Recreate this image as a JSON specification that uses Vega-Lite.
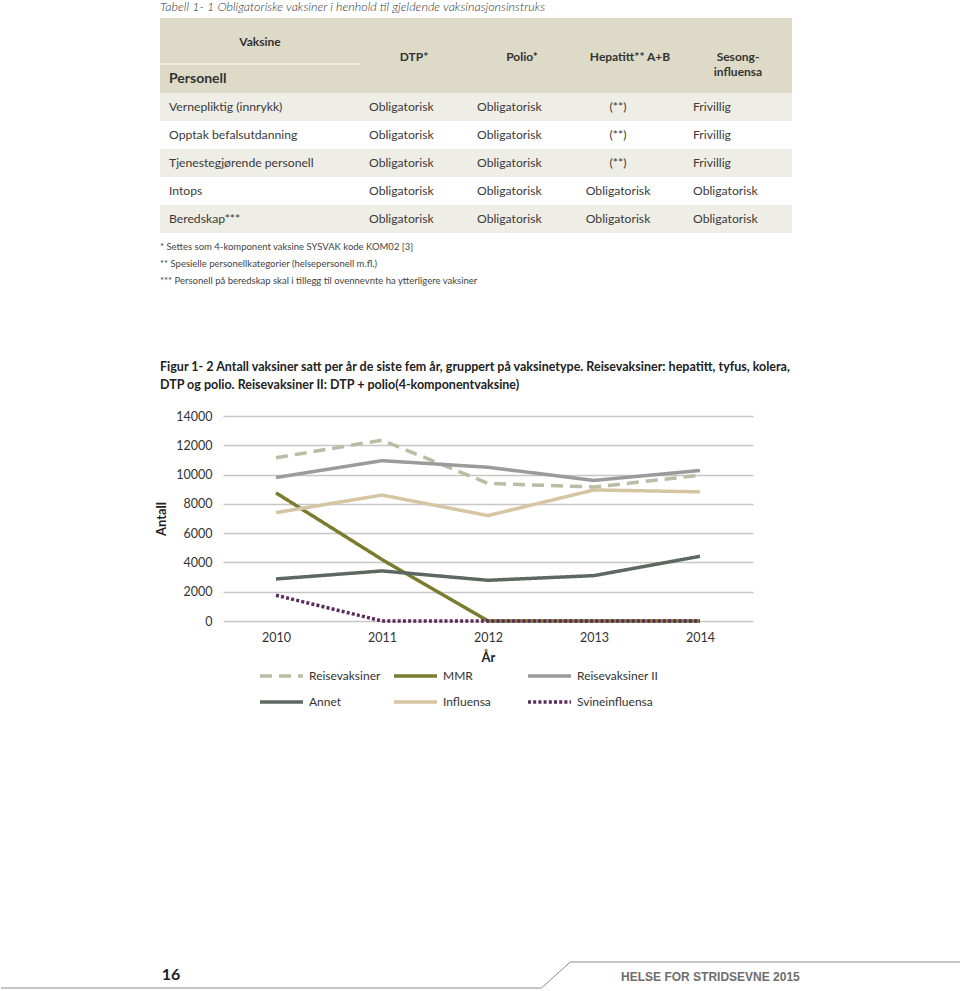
{
  "$schema": "https://vega.github.io/schema/vega-lite/v6.json",
  "padding": 0,
  "background": "#ffffff",
  "bounds": "flush",
  "spacing": 0,
  "config": {
    "view": {"stroke": null},
    "font": "Lato",
    "text": {"font": "Lato"},
    "axis": {"labelFont": "Lato", "titleFont": "Lato"},
    "legend": {"labelFont": "Lato"}
  },
  "datasets": {
    "cells": [
      {"n": 1, "c": 0, "v": "Vernepliktig (innrykk)"},
      {"n": 1, "c": 1, "v": "Obligatorisk"},
      {"n": 1, "c": 2, "v": "Obligatorisk"},
      {"n": 1, "c": 3, "v": "(**)"},
      {"n": 1, "c": 4, "v": "Frivillig"},
      {"n": 2, "c": 0, "v": "Opptak befalsutdanning"},
      {"n": 2, "c": 1, "v": "Obligatorisk"},
      {"n": 2, "c": 2, "v": "Obligatorisk"},
      {"n": 2, "c": 3, "v": "(**)"},
      {"n": 2, "c": 4, "v": "Frivillig"},
      {"n": 3, "c": 0, "v": "Tjenestegjørende personell"},
      {"n": 3, "c": 1, "v": "Obligatorisk"},
      {"n": 3, "c": 2, "v": "Obligatorisk"},
      {"n": 3, "c": 3, "v": "(**)"},
      {"n": 3, "c": 4, "v": "Frivillig"},
      {"n": 4, "c": 0, "v": "Intops"},
      {"n": 4, "c": 1, "v": "Obligatorisk"},
      {"n": 4, "c": 2, "v": "Obligatorisk"},
      {"n": 4, "c": 3, "v": "Obligatorisk"},
      {"n": 4, "c": 4, "v": "Obligatorisk"},
      {"n": 5, "c": 0, "v": "Beredskap***"},
      {"n": 5, "c": 1, "v": "Obligatorisk"},
      {"n": 5, "c": 2, "v": "Obligatorisk"},
      {"n": 5, "c": 3, "v": "Obligatorisk"},
      {"n": 5, "c": 4, "v": "Obligatorisk"}
    ],
    "vaccines": [
      {"Year": 2010, "Vaksinetype": "Reisevaksiner", "Antall": 11150},
      {"Year": 2011, "Vaksinetype": "Reisevaksiner", "Antall": 12350},
      {"Year": 2012, "Vaksinetype": "Reisevaksiner", "Antall": 9400},
      {"Year": 2013, "Vaksinetype": "Reisevaksiner", "Antall": 9150},
      {"Year": 2014, "Vaksinetype": "Reisevaksiner", "Antall": 9950},
      {"Year": 2010, "Vaksinetype": "MMR", "Antall": 8750},
      {"Year": 2011, "Vaksinetype": "MMR", "Antall": 4200},
      {"Year": 2012, "Vaksinetype": "MMR", "Antall": 0},
      {"Year": 2013, "Vaksinetype": "MMR", "Antall": 0},
      {"Year": 2014, "Vaksinetype": "MMR", "Antall": 0},
      {"Year": 2010, "Vaksinetype": "Reisevaksiner II", "Antall": 9800},
      {"Year": 2011, "Vaksinetype": "Reisevaksiner II", "Antall": 10950},
      {"Year": 2012, "Vaksinetype": "Reisevaksiner II", "Antall": 10500},
      {"Year": 2013, "Vaksinetype": "Reisevaksiner II", "Antall": 9600},
      {"Year": 2014, "Vaksinetype": "Reisevaksiner II", "Antall": 10280},
      {"Year": 2010, "Vaksinetype": "Annet", "Antall": 2870},
      {"Year": 2011, "Vaksinetype": "Annet", "Antall": 3420},
      {"Year": 2012, "Vaksinetype": "Annet", "Antall": 2780},
      {"Year": 2013, "Vaksinetype": "Annet", "Antall": 3100},
      {"Year": 2014, "Vaksinetype": "Annet", "Antall": 4420},
      {"Year": 2010, "Vaksinetype": "Influensa", "Antall": 7400},
      {"Year": 2011, "Vaksinetype": "Influensa", "Antall": 8600},
      {"Year": 2012, "Vaksinetype": "Influensa", "Antall": 7200},
      {"Year": 2013, "Vaksinetype": "Influensa", "Antall": 8950},
      {"Year": 2014, "Vaksinetype": "Influensa", "Antall": 8820},
      {"Year": 2010, "Vaksinetype": "Svineinfluensa", "Antall": 1760},
      {"Year": 2011, "Vaksinetype": "Svineinfluensa", "Antall": 0},
      {"Year": 2012, "Vaksinetype": "Svineinfluensa", "Antall": 0},
      {"Year": 2013, "Vaksinetype": "Svineinfluensa", "Antall": 0},
      {"Year": 2014, "Vaksinetype": "Svineinfluensa", "Antall": 0}
    ]
  },
  "vconcat": [
    {
      "width": 569,
      "height": 416,
      "resolve": {"scale": {"y": "independent"}},
      "layer": [
        {
          "data": {"values": [{"t": "Tabell 1- 1 Obligatoriske vaksiner i henhold til gjeldende vaksinasjonsinstruks"}]},
          "mark": {"type": "text", "align": "left", "baseline": "middle", "fontStyle": "italic", "fontWeight": 300, "fontSize": 12.5, "color": "#333333"},
          "encoding": {
            "x": {"datum": 0, "type": "quantitative", "scale": {"domain": [0, 1, 5], "range": [-63, 137, 569], "nice": false, "zero": false}, "axis": null},
            "y": {"field": "t", "type": "nominal", "scale": {"type": "point", "range": [0, 13]}, "axis": null},
            "text": {"field": "t"}
          }
        },
        {
          "data": {"values": [{"part": "header"}]},
          "mark": {"type": "rect", "color": "#dddac7"},
          "encoding": {
            "x": {"datum": 0, "type": "quantitative", "scale": {"domain": [0, 1, 5], "range": [-63, 137, 569], "nice": false, "zero": false}, "axis": null},
            "x2": {"datum": 5},
            "y": {"field": "part", "type": "nominal", "scale": {"type": "band", "range": [18, 93], "paddingInner": 0, "paddingOuter": 0}, "axis": null}
          }
        },
        {
          "data": {"values": [{"lvl": "l3"}]},
          "mark": {"type": "rule", "color": "#f3f1e8", "strokeWidth": 1.5},
          "encoding": {
            "x": {"datum": 0, "type": "quantitative", "scale": {"domain": [0, 1, 5], "range": [-63, 137, 569], "nice": false, "zero": false}, "axis": null},
            "x2": {"datum": 1},
            "y": {"field": "lvl", "type": "nominal", "scale": {"type": "point", "domain": ["l0", "l1", "l2", "l3", "l4", "l5"], "range": [42, 78.5], "padding": 0}, "axis": null}
          }
        },
        {
          "data": {"values": [
            {"c": 1, "lvl": "l2", "h": "DTP*"},
            {"c": 2, "lvl": "l2", "h": "Polio*"},
            {"c": 3, "lvl": "l2", "h": "Hepatitt** A+B"},
            {"c": 4, "lvl": "l2", "h": ["Sesong-", "influensa"]}
          ]},
          "mark": {"type": "text", "align": "center", "baseline": "middle", "dx": 54, "fontWeight": "bold", "fontSize": 12, "lineHeight": 15, "color": "#333333"},
          "encoding": {
            "x": {"field": "c", "type": "quantitative", "scale": {"domain": [0, 1, 5], "range": [-63, 137, 569], "nice": false, "zero": false}, "axis": null},
            "y": {"field": "lvl", "type": "nominal", "scale": {"type": "point", "domain": ["l0", "l1", "l2", "l3", "l4", "l5"], "range": [42, 78.5], "padding": 0}, "axis": null},
            "text": {"field": "h"}
          }
        },
        {
          "data": {"values": [{"c": 0, "lvl": "l0", "h": "Vaksine"}]},
          "mark": {"type": "text", "align": "center", "baseline": "middle", "dx": 100, "fontWeight": "bold", "fontSize": 12, "color": "#333333"},
          "encoding": {
            "x": {"field": "c", "type": "quantitative", "scale": {"domain": [0, 1, 5], "range": [-63, 137, 569], "nice": false, "zero": false}, "axis": null},
            "y": {"field": "lvl", "type": "nominal", "scale": {"type": "point", "domain": ["l0", "l1", "l2", "l3", "l4", "l5"], "range": [42, 78.5], "padding": 0}, "axis": null},
            "text": {"field": "h"}
          }
        },
        {
          "data": {"values": [{"c": 0, "lvl": "l5", "h": "Personell"}]},
          "mark": {"type": "text", "align": "left", "baseline": "middle", "dx": 9, "fontWeight": "bold", "fontSize": 14, "color": "#333333"},
          "encoding": {
            "x": {"field": "c", "type": "quantitative", "scale": {"domain": [0, 1, 5], "range": [-63, 137, 569], "nice": false, "zero": false}, "axis": null},
            "y": {"field": "lvl", "type": "nominal", "scale": {"type": "point", "domain": ["l0", "l1", "l2", "l3", "l4", "l5"], "range": [42, 78.5], "padding": 0}, "axis": null},
            "text": {"field": "h"}
          }
        },
        {
          "data": {"name": "cells"},
          "transform": [{"filter": "datum.c == 0 && datum.n % 2 == 1"}],
          "mark": {"type": "rect", "color": "#eeede6"},
          "encoding": {
            "x": {"datum": 0, "type": "quantitative", "scale": {"domain": [0, 1, 5], "range": [-63, 137, 569], "nice": false, "zero": false}, "axis": null},
            "x2": {"datum": 5},
            "y": {"field": "n", "type": "ordinal", "scale": {"type": "band", "domain": [1, 2, 3, 4, 5], "range": [93, 233], "paddingInner": 0, "paddingOuter": 0}, "axis": null}
          }
        },
        {
          "data": {"name": "cells"},
          "transform": [{"filter": "datum.c != 3"}],
          "mark": {"type": "text", "align": "left", "baseline": "middle", "dx": 9, "fontSize": 12.2, "color": "#3a3a3a"},
          "encoding": {
            "x": {"field": "c", "type": "quantitative", "scale": {"domain": [0, 1, 5], "range": [-63, 137, 569], "nice": false, "zero": false}, "axis": null},
            "y": {"field": "n", "type": "ordinal", "scale": {"type": "band", "domain": [1, 2, 3, 4, 5], "range": [93, 233], "paddingInner": 0, "paddingOuter": 0}, "axis": null},
            "text": {"field": "v"}
          }
        },
        {
          "data": {"name": "cells"},
          "transform": [{"filter": "datum.c == 3"}],
          "mark": {"type": "text", "align": "center", "baseline": "middle", "dx": 42, "fontSize": 12.2, "color": "#3a3a3a"},
          "encoding": {
            "x": {"field": "c", "type": "quantitative", "scale": {"domain": [0, 1, 5], "range": [-63, 137, 569], "nice": false, "zero": false}, "axis": null},
            "y": {"field": "n", "type": "ordinal", "scale": {"type": "band", "domain": [1, 2, 3, 4, 5], "range": [93, 233], "paddingInner": 0, "paddingOuter": 0}, "axis": null},
            "text": {"field": "v"}
          }
        },
        {
          "data": {"values": [
            {"k": 1, "t": "* Settes som 4-komponent vaksine SYSVAK kode KOM02 [3]"},
            {"k": 2, "t": "** Spesielle personellkategorier (helsepersonell m.fl.)"},
            {"k": 3, "t": "*** Personell på beredskap skal i tillegg til ovennevnte ha ytterligere vaksiner"}
          ]},
          "mark": {"type": "text", "align": "left", "baseline": "middle", "fontSize": 9.5, "color": "#444444"},
          "encoding": {
            "x": {"datum": 0, "type": "quantitative", "scale": {"domain": [0, 1, 5], "range": [-63, 137, 569], "nice": false, "zero": false}, "axis": null},
            "y": {"field": "k", "type": "ordinal", "scale": {"type": "point", "domain": [1, 2, 3], "range": [247, 281], "padding": 0}, "axis": null},
            "text": {"field": "t"}
          }
        },
        {
          "data": {"values": [
            {"k": 1, "t": "Figur 1- 2 Antall vaksiner satt per år de siste fem år, gruppert på vaksinetype. Reisevaksiner: hepatitt, tyfus, kolera,"},
            {"k": 2, "t": "DTP og polio. Reisevaksiner II: DTP + polio(4-komponentvaksine)"}
          ]},
          "mark": {"type": "text", "align": "left", "baseline": "middle", "fontSize": 12.5, "fontWeight": "bold", "color": "#222222"},
          "encoding": {
            "x": {"datum": 0, "type": "quantitative", "scale": {"domain": [0, 1, 5], "range": [-63, 137, 569], "nice": false, "zero": false}, "axis": null},
            "y": {"field": "k", "type": "ordinal", "scale": {"type": "point", "domain": [1, 2], "range": [367, 385], "padding": 0}, "axis": null},
            "text": {"field": "t"}
          }
        }
      ]
    },
    {
      "width": 530,
      "height": 205,
      "data": {"name": "vaccines"},
      "mark": {"type": "line", "strokeWidth": 3.5, "strokeCap": "butt"},
      "encoding": {
        "x": {
          "field": "Year", "type": "ordinal",
          "scale": {"type": "point", "padding": 0.5},
          "axis": {"title": "År", "labelAngle": 0, "domain": false, "ticks": false, "tickSize": 0, "grid": false, "labelPadding": 10, "labelFontSize": 12.5, "labelColor": "#333333", "titleFontSize": 13, "titleFontWeight": "bold", "titleColor": "#222222", "titlePadding": 8}
        },
        "y": {
          "field": "Antall", "type": "quantitative",
          "scale": {"domain": [0, 14000], "nice": false},
          "axis": {"title": "Antall", "values": [0, 2000, 4000, 6000, 8000, 10000, 12000, 14000], "format": "d", "domain": false, "ticks": false, "tickSize": 0, "labelPadding": 11, "grid": true, "gridColor": "#c6c6c6", "gridWidth": 1.5, "labelFontSize": 12.5, "labelColor": "#333333", "titleFontSize": 13, "titleFontWeight": "bold", "titleColor": "#222222", "titlePadding": 7}
        },
        "color": {
          "field": "Vaksinetype", "type": "nominal",
          "scale": {"domain": ["Reisevaksiner", "MMR", "Reisevaksiner II", "Annet", "Influensa", "Svineinfluensa"], "range": ["#b8bea4", "#7b7c2f", "#9b9b9b", "#5e6863", "#d6c5a3", "#5b2a5d"]},
          "legend": {"title": null, "orient": "none", "legendX": 35, "legendY": 669, "direction": "horizontal", "columns": 3, "symbolType": "stroke", "symbolSize": 1849, "symbolStrokeWidth": 3.5, "clipHeight": 14, "labelFontSize": 12, "labelColor": "#333333", "labelOffset": 4, "columnPadding": 1, "rowPadding": 12, "gridAlign": "all", "padding": 0, "labelLimit": 200}
        },
        "strokeDash": {
          "field": "Vaksinetype", "type": "nominal",
          "scale": {"domain": ["Reisevaksiner", "MMR", "Reisevaksiner II", "Annet", "Influensa", "Svineinfluensa"], "range": [[12, 7], [1, 0], [1, 0], [1, 0], [1, 0], [3, 2.2]]},
          "legend": {"title": null, "orient": "none", "legendX": 35, "legendY": 669, "direction": "horizontal", "columns": 3, "symbolType": "stroke", "symbolSize": 1849, "symbolStrokeWidth": 3.5, "clipHeight": 14, "labelFontSize": 12, "labelColor": "#333333", "labelOffset": 4, "columnPadding": 1, "rowPadding": 12, "gridAlign": "all", "padding": 0, "labelLimit": 200}
        }
      }
    },
    {
      "width": 737,
      "height": 370,
      "layer": [
        {
          "data": {"values": [{"p": 0, "h": 0}, {"p": 56.3, "h": 0}, {"p": 59.3, "h": 1}, {"p": 100, "h": 1}]},
          "mark": {"type": "line", "color": "#8c8c8c", "strokeWidth": 1, "strokeJoin": "bevel"},
          "encoding": {
            "x": {"field": "p", "type": "quantitative", "scale": {"domain": [0, 100], "range": [-222, 738], "nice": false, "zero": false}, "axis": null},
            "y": {"field": "h", "type": "quantitative", "scale": {"domain": [0, 1], "range": [367, 341], "nice": false, "zero": false}, "axis": null}
          }
        },
        {
          "data": {"values": [{"label": "16"}]},
          "mark": {"type": "text", "align": "center", "baseline": "middle", "fontSize": 16, "fontWeight": "bold", "color": "#222222"},
          "encoding": {
            "x": {"datum": 17.7, "type": "quantitative", "scale": {"domain": [0, 100], "range": [-222, 738], "nice": false, "zero": false}, "axis": null},
            "y": {"datum": 0.5, "type": "quantitative", "scale": {"domain": [0, 1], "range": [367, 341], "nice": false, "zero": false}, "axis": null},
            "text": {"field": "label"}
          }
        },
        {
          "data": {"values": [{"label": "HELSE FOR STRIDSEVNE 2015"}]},
          "mark": {"type": "text", "align": "center", "baseline": "middle", "fontSize": 12, "fontWeight": "bold", "font": "Liberation Sans", "color": "#6e6e6e"},
          "encoding": {
            "x": {"datum": 73.9, "type": "quantitative", "scale": {"domain": [0, 100], "range": [-222, 738], "nice": false, "zero": false}, "axis": null},
            "y": {"datum": 0.42, "type": "quantitative", "scale": {"domain": [0, 1], "range": [367, 341], "nice": false, "zero": false}, "axis": null},
            "text": {"field": "label"}
          }
        }
      ]
    }
  ]
}
